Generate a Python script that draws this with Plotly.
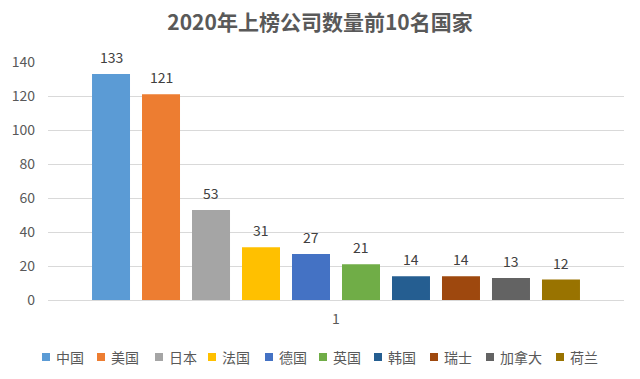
import plotly.graph_objects as go

countries = ["中国", "美国", "日本", "法国", "德国", "英国", "韩国", "瑞士", "加拿大", "荷兰"]
counts = [133, 121, 53, 31, 27, 21, 14, 14, 13, 12]
colors = ["#5B9BD5", "#ED7D31", "#A5A5A5", "#FFC000", "#4472C4", "#70AD47", "#255E91", "#9E480E", "#636363", "#997300"]
category = ["1"]
y_ticks = [0, 20, 40, 60, 80, 100, 120, 140]

FONT = "Noto Sans CJK SC, Liberation Sans, sans-serif"

W, H = 640, 379
ML, MR, MT, MB = 48, 16, 62, 79
PW, PH = W - ML - MR, H - MT - MB
BARGAP, BARGROUPGAP = 0.132, 0.24

fig = go.Figure()
for name, val, col in zip(countries, counts, colors):
    fig.add_trace(go.Bar(
        x=category, y=[val], name=name,
        marker=dict(color=col, line=dict(width=0)),
        cliponaxis=False,
    ))

# data labels placed above each bar in the group
n = len(countries)
slot = (1 - BARGAP) / n
annos = []
for i, val in enumerate(counts):
    annos.append(dict(text=str(val), xref="x", yref="y", x=-(1 - BARGAP) / 2 + (i + 0.5) * slot,
                      y=val, yanchor="bottom", yshift=5, showarrow=False,
                      font=dict(size=14, color="#404040", family=FONT)))

# custom legend (Excel-like compact legend at bottom)
legend_px = [46, 101, 159, 212, 269, 323, 378, 434, 490, 560]
legend_py = 357
shapes = []
for name, col, cx in zip(countries, colors, legend_px):
    x0 = (cx - 4 - ML) / PW
    x1 = (cx + 4 - ML) / PW
    y0 = (MT + PH - (legend_py + 4)) / PH
    y1 = (MT + PH - (legend_py - 4)) / PH
    shapes.append(dict(type="rect", xref="paper", yref="paper", x0=x0, x1=x1, y0=y0, y1=y1,
                       fillcolor=col, line=dict(width=0)))
    annos.append(dict(text=name, xref="paper", yref="paper", x=(cx + 8 - ML) / PW,
                      y=(MT + PH - legend_py) / PH, xanchor="left", yanchor="middle",
                      showarrow=False, font=dict(size=14, color="#595959", family=FONT)))

fig.update_layout(
    width=W, height=H,
    margin=dict(l=ML, r=MR, t=MT, b=MB, autoexpand=False),
    paper_bgcolor="white", plot_bgcolor="white",
    barmode="group", bargap=BARGAP, bargroupgap=BARGROUPGAP,
    title=dict(text="<b>2020年上榜公司数量前10名国家</b>", x=0.5, xanchor="center",
               y=1 - 23 / H, yanchor="middle",
               font=dict(size=21, color="#595959", family=FONT)),
    font=dict(family=FONT, color="#595959", size=13),
    showlegend=False,
    shapes=shapes, annotations=annos,
    xaxis=dict(showgrid=False, showline=True, linecolor="#D9D9D9", ticks="", automargin=False,
               ticklabelstandoff=6, tickfont=dict(size=14, color="#595959")),
    yaxis=dict(range=[0, 140], tickvals=y_ticks, showgrid=True, gridcolor="#D9D9D9",
               zeroline=False, ticks="", automargin=False, ticklabelstandoff=12,
               tickfont=dict(size=14, color="#595959")),
)

fig.write_html("out.html", config={"displayModeBar": False},
               post_script="document.body.style.margin='0';")
